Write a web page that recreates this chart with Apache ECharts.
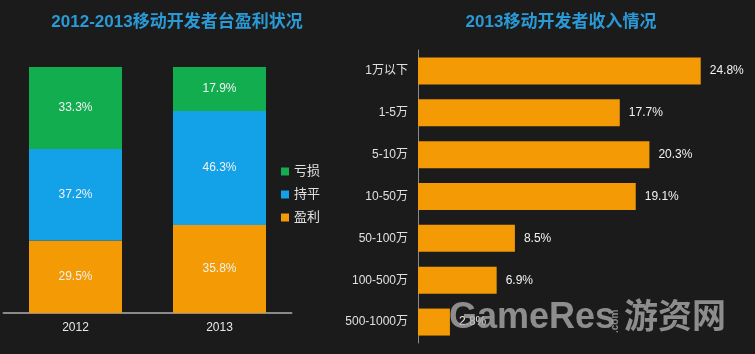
<!DOCTYPE html>
<html>
<head>
<meta charset="utf-8">
<script src="https://cdn.jsdelivr.net/npm/echarts@6/dist/echarts.min.js"></script>
<style>
  html, body { margin: 0; padding: 0; background: #1b1b1b; }
  #main { width: 755px; height: 354px; }
</style>
</head>
<body>
<div id="main"></div>
<script>
// 左图：盈利状况（堆叠）
var years = ['2012', '2013']
var profit = [29.5, 35.8]   // 盈利
var flat = [37.2, 46.3]     // 持平
var loss = [33.3, 17.9]     // 亏损

// 右图：收入分布
var incomeCats = ['1万以下', '1-5万', '5-10万', '10-50万', '50-100万', '100-500万', '500-1000万']
var incomeVals = [24.8, 17.7, 20.3, 19.1, 8.5, 6.9, 2.8]

var GREEN = '#12ad4f', BLUE = '#13a2e8', ORANGE = '#f39a04'
var font = '"Liberation Sans", "Noto Sans CJK SC", sans-serif'
var WM = 'rgba(170,170,170,0.8)'

var chart = echarts.init(document.getElementById('main'))

function pctLabel(show) {
  return {
    show: show,
    color: '#f2f2f2',
    fontSize: 12,
    fontFamily: font,
    formatter: function (p) { return p.value.toFixed(1) + '%' }
  }
}

chart.setOption({
  backgroundColor: '#1b1b1b',
  animation: false,
  title: [
    {
      text: '2012-2013移动开发者台盈利状况',
      left: 172, top: 9, textAlign: 'center',
      textStyle: { color: '#2a9ad6', fontSize: 17, fontWeight: 'bold', fontFamily: font }
    },
    {
      text: '2013移动开发者收入情况',
      left: 556, top: 9, textAlign: 'center',
      textStyle: { color: '#2a9ad6', fontSize: 17, fontWeight: 'bold', fontFamily: font }
    }
  ],
  legend: {
    data: ['亏损', '持平', '盈利'],
    orient: 'vertical',
    left: 276, top: 160,
    itemWidth: 8, itemHeight: 8, itemGap: 10,
    icon: 'rect',
    textStyle: { color: '#e0e0e0', fontSize: 13, fontFamily: font }
  },
  grid: [
    { left: 3.5, width: 288, top: 67, height: 246 },
    { left: 418, width: 285, top: 50, height: 293 }
  ],
  xAxis: [
    {
      gridIndex: 0, type: 'category', data: years,
      axisLine: { lineStyle: { color: '#8a8a8a', width: 2 } },
      axisTick: { show: false },
      axisLabel: { color: '#e8e8e8', fontSize: 12, margin: 9, fontFamily: font }
    },
    {
      gridIndex: 1, type: 'value', min: 0, max: 25, show: false
    }
  ],
  yAxis: [
    { gridIndex: 0, type: 'value', min: 0, max: 100, show: false },
    {
      gridIndex: 1, type: 'category', data: incomeCats, inverse: true,
      axisLine: { lineStyle: { color: '#8a8a8a', width: 1 } },
      axisTick: { show: false },
      axisLabel: { color: '#e0e0e0', fontSize: 12, margin: 10, fontFamily: font }
    }
  ],
  series: [
    {
      name: '盈利', type: 'bar', stack: 'a', barWidth: 93,
      xAxisIndex: 0, yAxisIndex: 0, data: profit,
      itemStyle: { color: ORANGE }, label: pctLabel(true)
    },
    {
      name: '持平', type: 'bar', stack: 'a', barWidth: 93,
      xAxisIndex: 0, yAxisIndex: 0, data: flat,
      itemStyle: { color: BLUE }, label: pctLabel(true)
    },
    {
      name: '亏损', type: 'bar', stack: 'a', barWidth: 93,
      xAxisIndex: 0, yAxisIndex: 0, data: loss,
      itemStyle: { color: GREEN }, label: pctLabel(true)
    },
    {
      name: '收入', type: 'bar', barWidth: 27,
      xAxisIndex: 1, yAxisIndex: 1, data: incomeVals,
      itemStyle: { color: ORANGE },
      label: Object.assign(pctLabel(true), { position: 'right', distance: 9 })
    }
  ],
  // 水印
  graphic: [
    {
      type: 'text', left: 449, top: 300, silent: true, z: 100,
      style: {
        text: 'GameRes', fill: WM,
        font: 'bold 36px "Liberation Sans", sans-serif'
      }
    },
    {
      type: 'text', x: 610, y: 333, rotation: Math.PI / 2, silent: true, z: 100,
      style: {
        text: '.com', fill: WM, textAlign: 'left', textVerticalAlign: 'top',
        font: 'bold 10px "Liberation Sans", sans-serif'
      }
    },
    {
      type: 'text', left: 624, top: 298, silent: true, z: 100,
      style: {
        text: '游资网', fill: WM,
        font: 'bold 34px "Noto Sans CJK SC", sans-serif'
      }
    }
  ]
})
</script>
</body>
</html>
